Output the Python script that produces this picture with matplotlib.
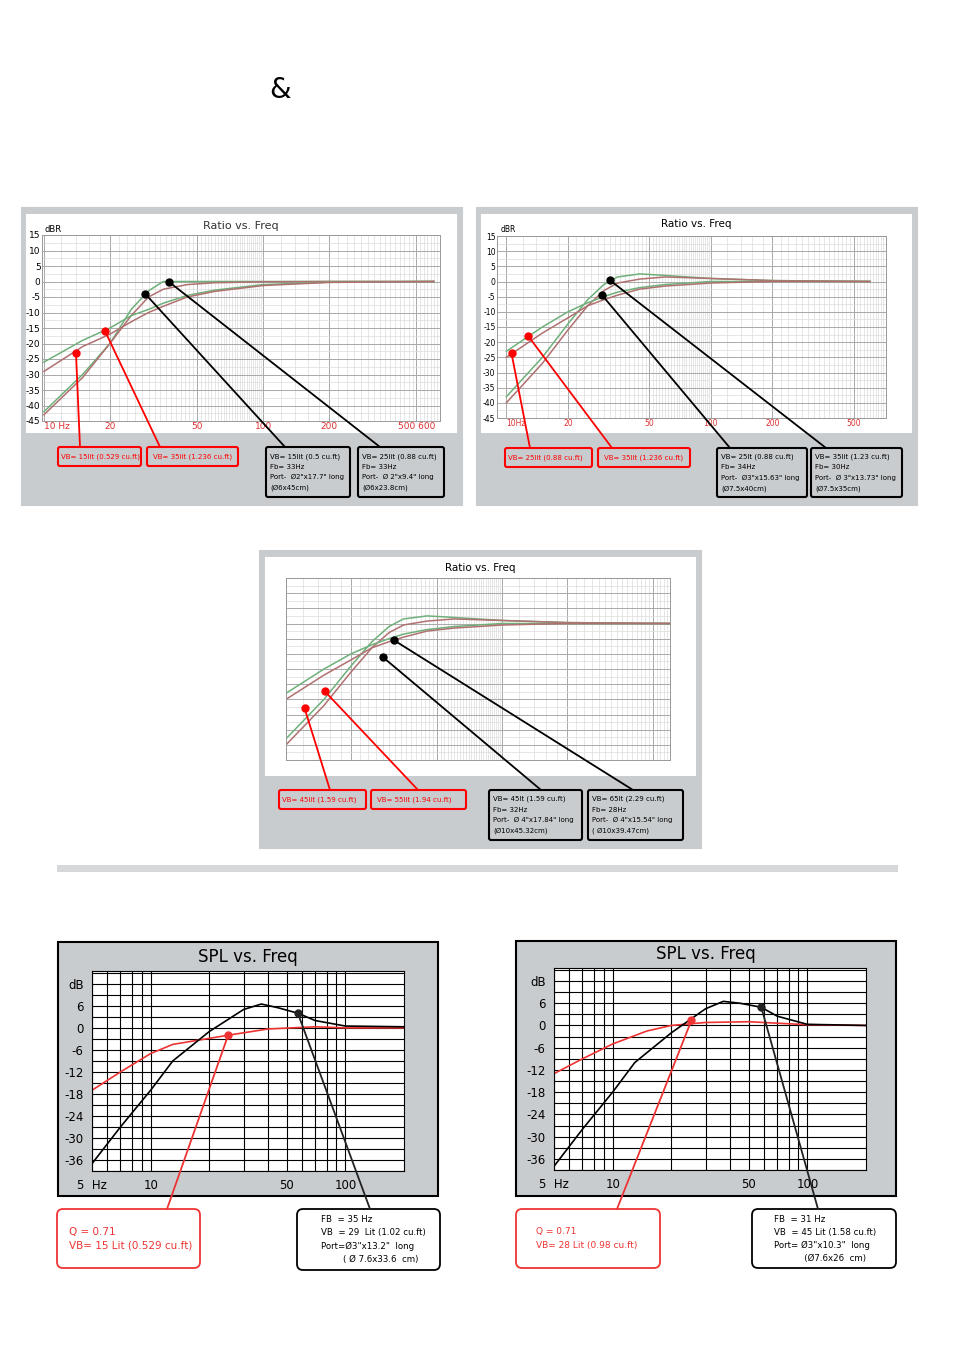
import matplotlib
matplotlib.use("Agg")
import matplotlib.pyplot as plt
from matplotlib.patches import Rectangle, FancyBboxPatch, ConnectionPatch
from matplotlib.ticker import FixedLocator, NullFormatter

W, H = 954, 1350

# ---- Ratio vs. Freq data ----
ratio_freq = [10, 15, 20, 25, 30, 35, 45, 60, 100, 200, 600]
r1_green_steep = [-42, -30, -20, -9, -3, 0, 0, 0, 0, 0, 0]
r1_red_steep = [-43, -31, -20, -11, -5, -2.5, -1, -0.4, -0.1, 0, 0]
r1_green_soft = [-26, -19, -15, -11, -9, -7, -4.5, -2.8, -1, -0.2, 0]
r1_red_soft = [-29, -21, -17, -13, -10, -8, -5, -3.2, -1.3, -0.3, 0]

r2_green_steep = [-38, -25, -14, -6, -1, 1.5, 2.5, 2, 1, 0.3, 0]
r2_red_steep = [-40, -27, -16, -8, -3, -0.5, 0.8, 1.5, 1, 0.3, 0]
r2_green_soft = [-23, -15, -10, -7, -5, -3.5, -2, -1, 0, 0, 0]
r2_red_soft = [-25, -17, -12, -8, -6, -4.5, -2.5, -1.5, -0.5, 0, 0]

ratio1_red_marks = [(14, -23), (19, -16)]
ratio1_black_marks = [(29, -4), (37, 0)]
ratio2_red_marks = [(10.6, -23.7), (12.8, -18)]
ratio2_black_marks = [(29.4, -4.5), (32, 0.5)]
ratio3_red_marks = [(12.2, -28), (15.1, -22.3)]
ratio3_black_marks = [(28, -11), (31.6, -5.5)]

# ---- SPL vs. Freq data ----
spl1_freq = [5, 7, 10, 13, 20, 30, 37, 45, 57, 70, 100, 200]
spl1_black = [-37, -27, -17, -9, -1, 5, 6.5, 5.5, 4, 2, 0.5, 0.3]
spl1_red_freq = [5, 7, 10, 13, 25, 40, 70, 100, 200]
spl1_red = [-17, -12, -7, -4.5, -2, -0.3, 0.3, 0, 0]
spl1_marks = [(25, -2), (57, 4)]

spl2_freq = [5, 7, 10, 13, 20, 30, 37, 45, 58, 70, 100, 200]
spl2_black = [-38, -28, -18, -10, -2, 4.5, 6.5, 6, 4.9, 2.5, 0.3, 0]
spl2_red_freq = [5, 7, 10, 15, 20, 30, 50, 100, 200]
spl2_red = [-13, -9, -5, -1.5, 0, 0.8, 1, 0.2, 0]
spl2_marks = [(25.4, 1.4), (58, 4.9)]

spl_yticks = [6, 0, -6, -12, -18, -24, -30, -36]

fig = plt.figure(figsize=(W / 100, H / 100), dpi=100)
bg = fig.add_axes([0, 0, 1, 1], zorder=0)
bg.set_xlim(0, W); bg.set_ylim(H, 0); bg.axis("off")
fg = fig.add_axes([0, 0, 1, 1], zorder=20)
fg.set_xlim(0, W); fg.set_ylim(H, 0); fg.axis("off"); fg.patch.set_alpha(0)


def rect(x0, y0, x1, y1):
    return [x0 / W, 1 - y1 / H, (x1 - x0) / W, (y1 - y0) / H]


def panel(x0, y0, x1, y1, color, edge=None):
    bg.add_patch(Rectangle((x0, y0), x1 - x0, y1 - y0, facecolor=color,
                           edgecolor=edge or color, lw=1.5))


def box(x0, y0, x1, y1, lines, color, fs=6.2, dx=4, lh=10.5, round_=False):
    if round_:
        p = FancyBboxPatch((x0, y0), x1 - x0, y1 - y0,
                           boxstyle="round,pad=0,rounding_size=6",
                           facecolor="white", edgecolor=color, lw=1.3)
    else:
        p = FancyBboxPatch((x0, y0), x1 - x0, y1 - y0,
                           boxstyle="round,pad=0,rounding_size=2",
                           facecolor="none", edgecolor=color, lw=1.5)
    fg.add_patch(p)
    y = y0 + 2 + lh / 2 + (y1 - y0 - 4 - lh * len(lines)) / 2
    for ln in lines:
        fg.text(x0 + dx, y, ln, color=color, fontsize=fs, va="center")
        y += lh


def leader(ax, pt, target, color):
    con = ConnectionPatch(xyA=pt, coordsA=ax.transData, xyB=target,
                          coordsB=fg.transData, color=color, lw=1.3, zorder=25)
    fig.add_artist(con)


def ratio_chart(r, xlim, curves, red_marks, black_marks, xlabels, ylabels, fs):
    ax = fig.add_axes(rect(*r), zorder=5)
    ax.set_xscale("log")
    ax.set_xlim(*xlim); ax.set_ylim(-45, 15)
    ax.set_facecolor("white")
    majors = [10, 20, 50, 100, 200, 500]
    ax.xaxis.set_major_locator(FixedLocator(majors))
    minors = [f * m for m in (1, 10, 100) for f in range(10, 100, 2)]
    ax.xaxis.set_minor_locator(FixedLocator(minors))
    ax.yaxis.set_major_locator(FixedLocator(range(-45, 16, 5)))
    ax.yaxis.set_minor_locator(FixedLocator([v + 2.5 for v in range(-45, 15, 5)]))
    ax.grid(which="major", color="#a8a8a8", lw=0.7)
    ax.grid(which="minor", color="#dcdcdc", lw=0.5)
    for s in ax.spines.values():
        s.set_color("#999999"); s.set_lw(0.7)
    ax.tick_params(which="both", length=0, pad=1)
    if xlabels:
        ax.set_xticklabels(xlabels, color="#e03030", fontsize=fs)
        ax.get_xticklabels()[0].set_horizontalalignment("left")
    else:
        ax.set_xticklabels([])
    ax.xaxis.set_minor_formatter(NullFormatter())
    if ylabels:
        ax.set_yticklabels([str(v) for v in range(-45, 16, 5)], fontsize=fs)
    else:
        ax.set_yticklabels([])
    for ys, c in zip(curves, ["#6fb07a", "#b07070", "#6fb07a", "#b07070"]):
        ax.plot(ratio_freq, ys, color=c, lw=1.1)
    for f, d in red_marks:
        ax.plot(f, d, "o", color="red", ms=5, zorder=30, clip_on=False)
    for f, d in black_marks:
        ax.plot(f, d, "o", color="black", ms=5, zorder=30, clip_on=False)
    return ax


# ---- top: ampersand ----
fg.text(280, 90, "&", fontsize=20, ha="center", va="center")

# ---- ratio chart 1 ----
panel(22, 208, 462, 505, "#c9ccce")
panel(27, 215, 456, 432, "white")
ax1 = ratio_chart((42, 235, 440, 421), (9.8, 640),
                  [r1_green_steep, r1_red_steep, r1_green_soft, r1_red_soft],
                  ratio1_red_marks, ratio1_black_marks,
                  ["10 Hz", "20", "50", "100", "200", "500 600"], True, 6.5)
fg.text(241, 226, "Ratio vs. Freq", fontsize=8, ha="center", va="center", color="#333333")
fg.text(45, 229, "dBR", fontsize=6, va="center")
for (f, d), t in zip(ratio1_red_marks, [(80, 447), (160, 447)]):
    leader(ax1, (f, d), t, "red")
for (f, d), t in zip(ratio1_black_marks, [(285, 447), (380, 447)]):
    leader(ax1, (f, d), t, "black")
box(58, 447, 141, 466, ["VB= 15lit (0.529 cu.ft)"], "red", fs=5.0, dx=3)
box(147, 447, 238, 466, ["VB= 35lit (1.236 cu.ft)"], "red", fs=5.0, dx=6)
box(266, 447, 350, 497, ["VB= 15lit (0.5 cu.ft)", "Fb= 33Hz", "Port-  Ø2\"x17.7\" long", "(Ø6x45cm)"], "black", fs=5.0, lh=10.5)
box(358, 447, 444, 497, ["VB= 25lit (0.88 cu.ft)", "Fb= 33Hz", "Port-  Ø 2\"x9.4\" long", "(Ø6x23.8cm)"], "black", fs=5.0, lh=10.5)

# ---- ratio chart 2 ----
panel(477, 208, 917, 505, "#c9ccce")
panel(482, 215, 911, 432, "white")
ax2 = ratio_chart((497, 236, 886, 418), (9.0, 720),
                  [r2_green_steep, r2_red_steep, r2_green_soft, r2_red_soft],
                  ratio2_red_marks, ratio2_black_marks,
                  ["10Hz", "20", "50", "100", "200", "500"], True, 5.5)
fg.text(696, 224, "Ratio vs. Freq", fontsize=7.5, ha="center", va="center")
fg.text(501, 230, "dBR", fontsize=5.5, va="center")
for (f, d), t in zip(ratio2_red_marks, [(530, 448), (612, 448)]):
    leader(ax2, (f, d), t, "red")
for (f, d), t in zip(ratio2_black_marks, [(730, 448), (826, 448)]):
    leader(ax2, (f, d), t, "black")
box(505, 448, 592, 467, ["VB= 25lit (0.88 cu.ft)"], "red", fs=5.0, dx=3)
box(598, 448, 690, 467, ["VB= 35lit (1.236 cu.ft)"], "red", fs=5.0, dx=6)
box(717, 448, 807, 497, ["VB= 25lt (0.88 cu.ft)", "Fb= 34Hz", "Port-  Ø3\"x15.63\" long", "(Ø7.5x40cm)"], "black", fs=5.0, lh=10.5)
box(811, 448, 902, 497, ["VB= 35lit (1.23 cu.ft)", "Fb= 30Hz", "Port-  Ø 3\"x13.73\" long", "(Ø7.5x35cm)"], "black", fs=5.0, lh=10.5)

# ---- ratio chart 3 ----
panel(260, 551, 701, 848, "#c9ccce")
panel(266, 558, 695, 775, "white")
ax3 = ratio_chart((286, 578, 670, 760), (10, 600),
                  [r2_green_steep, r2_red_steep, r2_green_soft, r2_red_soft],
                  ratio3_red_marks, ratio3_black_marks, None, False, 5)
fg.text(480, 568, "Ratio vs. Freq", fontsize=7.5, ha="center", va="center")
for (f, d), t in zip(ratio3_red_marks, [(330, 790), (418, 790)]):
    leader(ax3, (f, d), t, "red")
for (f, d), t in zip(ratio3_black_marks, [(541, 790), (633, 790)]):
    leader(ax3, (f, d), t, "black")
box(279, 790, 366, 809, ["VB= 45lit (1.59 cu.ft)"], "red", fs=5.0, dx=3)
box(371, 790, 466, 809, ["VB= 55lit (1.94 cu.ft)"], "red", fs=5.0, dx=6)
box(489, 790, 582, 840, ["VB= 45lt (1.59 cu.ft)", "Fb= 32Hz", "Port-  Ø 4\"x17.84\" long", "(Ø10x45.32cm)"], "black", fs=5.0, lh=10.5)
box(588, 790, 683, 840, ["VB= 65lt (2.29 cu.ft)", "Fb= 28Hz", "Port-  Ø 4\"x15.54\" long", "( Ø10x39.47cm)"], "black", fs=5.0, lh=10.5)

# separator
bg.add_patch(Rectangle((57, 865), 841, 7, facecolor="#d6d8da", edgecolor="none"))


# ---- SPL charts ----
def spl_chart(r, freq, black, rfreq, red, marks):
    ax = fig.add_axes(rect(*r), zorder=5)
    ax.set_xscale("log")
    ax.set_xlim(5, 200); ax.set_ylim(-39, 15.5)
    ax.set_facecolor("white")
    ax.xaxis.set_major_locator(FixedLocator([5, 10, 50, 100]))
    ax.xaxis.set_minor_locator(FixedLocator([6, 7, 8, 9, 20, 30, 40, 60, 70, 80, 90]))
    ax.set_xticklabels(["5  Hz", "10", "50", "100"], fontsize=8.5)
    ax.xaxis.set_minor_formatter(NullFormatter())
    ax.yaxis.set_major_locator(FixedLocator(spl_yticks + [12]))
    ax.set_yticklabels([str(v) for v in spl_yticks] + ["dB"], fontsize=8.5)
    ax.yaxis.set_minor_locator(FixedLocator([v + 3 for v in spl_yticks] + [-39 + 0.01, 15]))
    ax.grid(which="both", color="black", lw=0.8)
    ax.tick_params(which="both", length=0, pad=6)
    for s in ax.spines.values():
        s.set_lw(0.8)
    ax.plot(rfreq, red, color="#ee3333", lw=1.2)
    ax.plot(freq, black, color="black", lw=1.2)
    ax.plot(*marks[0], "o", color="#ee3333", ms=5, zorder=30)
    ax.plot(*marks[1], "o", color="#222222", ms=5, zorder=30)
    return ax


panel(58, 942, 438, 1196, "#c9ccce", edge="black")
s1 = spl_chart((92, 971, 404, 1171), spl1_freq, spl1_black, spl1_red_freq, spl1_red, spl1_marks)
fg.text(248, 957, "SPL vs. Freq", fontsize=12, ha="center", va="center")
leader(s1, spl1_marks[0], (167, 1209), "#ee3333")
leader(s1, spl1_marks[1], (370, 1209), "#222222")
box(57, 1209, 200, 1268, ["Q = 0.71", "VB= 15 Lit (0.529 cu.ft)"], "#ee3333", fs=7.5, dx=12, lh=14, round_=True)
box(297, 1209, 440, 1270, ["FB  = 35 Hz", "VB  = 29  Lit (1.02 cu.ft)", "Port=Ø3\"x13.2\"  long",
                           "        ( Ø 7.6x33.6  cm)"], "black", fs=6.2, dx=24, lh=13.5, round_=True)

panel(516, 941, 896, 1196, "#c9ccce", edge="black")
s2 = spl_chart((554, 968, 866, 1170), spl2_freq, spl2_black, spl2_red_freq, spl2_red, spl2_marks)
fg.text(706, 954, "SPL vs. Freq", fontsize=12, ha="center", va="center")
leader(s2, spl2_marks[0], (617, 1209), "#ee3333")
leader(s2, spl2_marks[1], (818, 1209), "#222222")
box(516, 1209, 660, 1268, ["Q = 0.71", "VB= 28 Lit (0.98 cu.ft)"], "#ee3333", fs=6.5, dx=20, lh=14, round_=True)
box(752, 1209, 896, 1268, ["FB  = 31 Hz", "VB  = 45 Lit (1.58 cu.ft)", "Port= Ø3\"x10.3\"  long",
                           "           (Ø7.6x26  cm)"], "black", fs=6.2, dx=22, lh=13, round_=True)

fig.savefig("out.png", dpi=100)
